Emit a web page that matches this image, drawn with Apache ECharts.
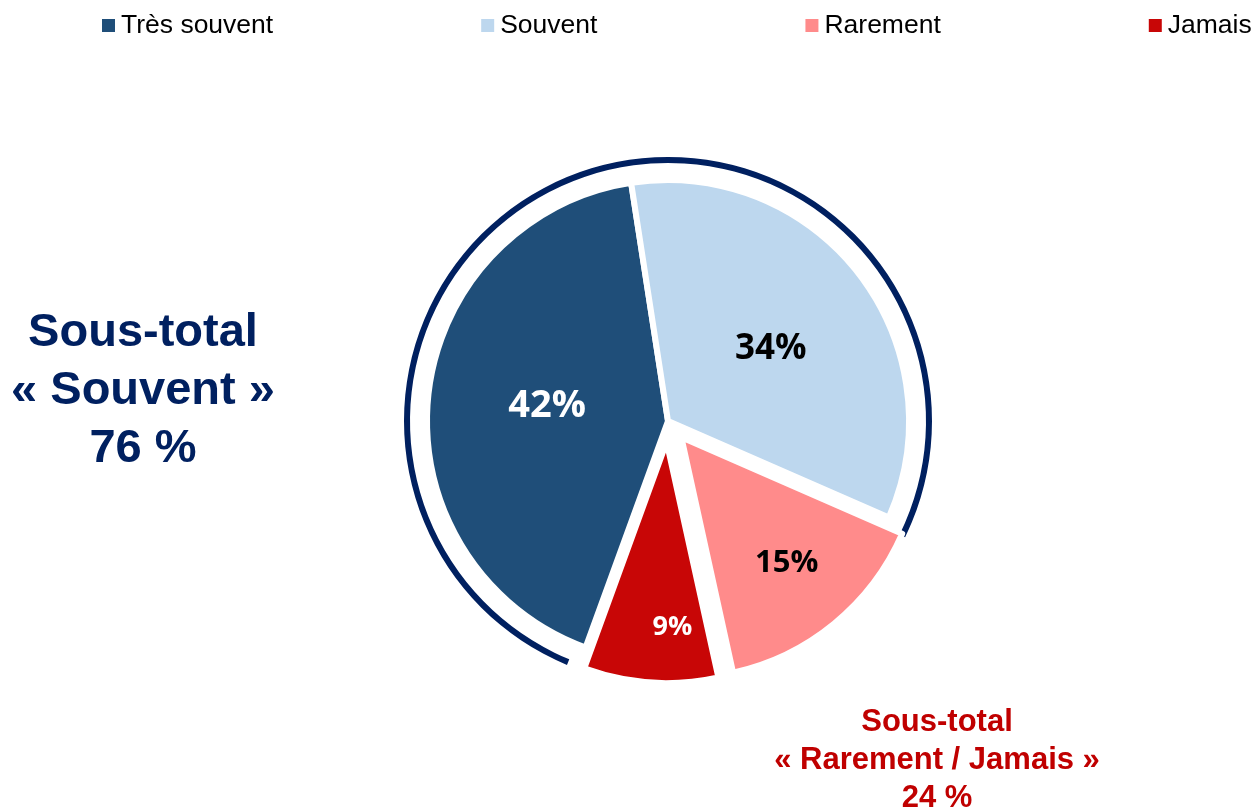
<!DOCTYPE html>
<html>
<head>
<meta charset="utf-8">
<script src="https://cdn.jsdelivr.net/npm/echarts@6/dist/echarts.min.js"></script>
<style>
  html, body { margin: 0; padding: 0; background: #ffffff; }
  #chart { width: 1254px; height: 810px; }
</style>
</head>
<body>
<div id="chart"></div>
<script>
// ---- data ----
var categories = ['Très souvent', 'Souvent', 'Rarement', 'Jamais'];
var values = [42, 34, 15, 9];
var explodedCategories = ['Rarement', 'Jamais'];
var subtotalLabels = ['Sous-total', '« Souvent »'];
var subtotalLabels2 = ['Sous-total', '« Rarement / Jamais »'];

// ---- styles ----
var colors = ['#1f4e79', '#bdd7ee', '#ff8b8b', '#c80606'];
var labelColors = ['#ffffff', '#000000', '#000000', '#ffffff'];
var labelSizes = [38, 35, 31, 27];
var labelShift = [[2, -3], [5, 3], [27, 31], [14, 62]];

var souventTotal = values[0] + values[1];
var rareTotal = values[2] + values[3];

var pieData = categories.map(function (c, i) {
  return {
    name: c,
    value: values[i],
    selected: explodedCategories.indexOf(c) >= 0,
    itemStyle: { color: colors[i] },
    label: { color: labelColors[i], fontSize: labelSizes[i] }
  };
});

var chart = echarts.init(document.getElementById('chart'), null, { renderer: 'canvas' });
chart.setOption({
  animation: false,
  backgroundColor: '#ffffff',
  legend: {
    data: categories,
    top: 12,
    left: 100,
    padding: 0,
    itemGap: 206,
    itemWidth: 15,
    itemHeight: 15,
    icon: 'rect',
    selectedMode: false,
    textStyle: { fontFamily: 'Liberation Sans, Arial', fontSize: 26.5, color: '#000000' }
  },
  series: [
    {
      type: 'pie',
      name: 'ring',
      silent: true,
      center: [668, 421],
      radius: [258, 264],
      startAngle: 247.5,
      clockwise: true,
      label: { show: false },
      labelLine: { show: false },
      emphasis: { disabled: true },
      data: [
        { name: 'souventTotal', value: souventTotal, itemStyle: { color: '#002060' } },
        { name: 'rareTotal', value: rareTotal, itemStyle: { color: 'rgba(0,0,0,0)' } }
      ],
      legendHoverLink: false
    },
    {
      type: 'pie',
      name: 'main',
      center: [668, 421],
      radius: [0, 241],
      startAngle: 250,
      clockwise: true,
      selectedMode: 'multiple',
      selectedOffset: 21,
      silent: true,
      emphasis: { disabled: true },
      itemStyle: { borderColor: '#ffffff', borderWidth: 6 },
      label: {
        show: true,
        position: 'inside',
        formatter: '{c}%',
        fontFamily: 'Open Sans',
        fontWeight: 'bold'
      },
      labelLine: { show: false },
      labelLayout: function (p) {
        var s = labelShift[p.dataIndex] || [0, 0];
        return { dx: s[0], dy: s[1] };
      },
      data: pieData
    }
  ],
  graphic: [
    {
      type: 'text',
      z: 10,
      style: {
        text: subtotalLabels.concat([souventTotal + ' %']).join('\n'),
        x: 143,
        y: 391,
        align: 'center',
        verticalAlign: 'middle',
        font: 'bold 47px "Liberation Sans", Arial',
        lineHeight: 58,
        fill: '#002060'
      }
    },
    {
      type: 'text',
      z: 10,
      style: {
        text: subtotalLabels2.concat([rareTotal + ' %']).join('\n'),
        x: 937,
        y: 760,
        align: 'center',
        verticalAlign: 'middle',
        font: 'bold 31px "Liberation Sans", Arial',
        lineHeight: 38,
        fill: '#c00000'
      }
    }
  ]
});
</script>
</body>
</html>
